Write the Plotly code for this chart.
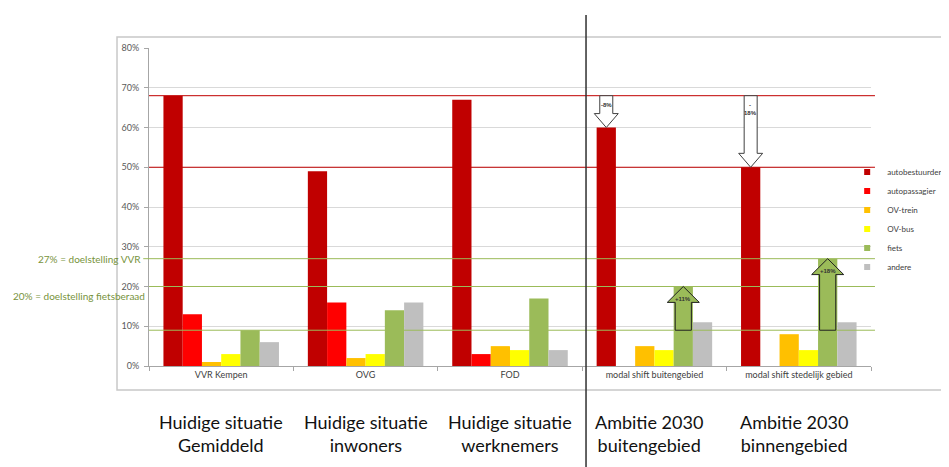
import plotly.graph_objects as go

# ---------------- data ----------------
categories = ["VVR Kempen", "OVG", "FOD", "modal shift buitengebied", "modal shift stedelijk gebied"]
group_labels = ["Huidige situatie<br>Gemiddeld", "Huidige situatie<br>inwoners",
                "Huidige situatie<br>werknemers", "Ambitie 2030<br>buitengebied",
                "Ambitie 2030<br>binnengebied"]
modes = ["autobestuurder", "autopassagier", "OV-trein", "OV-bus", "fiets", "andere"]
autobestuurder = [68, 49, 67, 60, 50]
autopassagier = [13, 16, 3, 0, 0]
ov_trein = [1, 2, 5, 5, 8]
ov_bus = [3, 3, 4, 4, 4]
fiets = [9, 14, 17, 20, 27]
andere = [6, 16, 4, 11, 11]
series = [autobestuurder, autopassagier, ov_trein, ov_bus, fiets, andere]
colors = ["#C00000", "#FF0000", "#FFC000", "#FFFF00", "#9BBB59", "#BFBFBF"]

red_lines = [68, 50]
green_lines = [27, 20, 9]
green_labels = {27: "27% = doelstelling VVR", 20: "20% = doelstelling fietsberaad"}
ambition_idx = [3, 4]
y_ticks = [0, 10, 20, 30, 40, 50, 60, 70, 80]

# ---------------- figure ----------------
BARGAP = 0.2
n = len(modes)
bw = (1 - BARGAP) / n
x = list(range(len(categories)))

fig = go.Figure()
for name, vals, col in zip(modes, series, colors):
    fig.add_trace(go.Bar(x=x, y=vals, name=name, marker=dict(color=col, line=dict(width=0)),
                         showlegend=False, legendgroup=name, hoverinfo="skip"))
    fig.add_trace(go.Scatter(x=[None], y=[None], mode="markers", name=name, legendgroup=name,
                             marker=dict(symbol="square", size=6, color=col)))


def bar_center(cat, trace_i):
    return cat - (1 - BARGAP) / 2 + (trace_i + 0.5) * bw


shapes = []
annotations = []

# horizontal reference lines (above bars)
for v in red_lines:
    shapes.append(dict(type="line", xref="paper", yref="y", x0=0, x1=1.0055, y0=v, y1=v,
                       line=dict(color="#C00000", width=1), layer="above"))
for v in green_lines:
    shapes.append(dict(type="line", xref="paper", yref="y", x0=-0.008 if v == 27 else 0,
                       x1=1.0055, y0=v, y1=v, line=dict(color="#9BBB59", width=1), layer="above"))
annotations.append(dict(xref="paper", yref="y", x=-0.008, y=27, text=green_labels[27], showarrow=False,
                        xanchor="right", yanchor="middle", font=dict(size=10, color="#77933C", family="Lato")))
annotations.append(dict(xref="paper", yref="y", x=-0.003, y=20, text=green_labels[20], showarrow=False,
                        xanchor="right", yanchor="top", yshift=-1, font=dict(size=10, color="#77933C", family="Lato")))


def arrow_path(xc, y_start, y_end, half_shaft, half_head, head_len):
    d = 1 if y_end > y_start else -1
    yb = y_end - d * head_len
    pts = [(xc - half_shaft, y_start), (xc - half_shaft, yb), (xc - half_head, yb), (xc, y_end),
           (xc + half_head, yb), (xc + half_shaft, yb), (xc + half_shaft, y_start)]
    return "M " + " L ".join(f"{px:.4f},{py:.4f}" for px, py in pts) + " Z"


base_auto = autobestuurder[0]
base_fiets = fiets[0]
for ci in ambition_idx:
    # down arrow on autobestuurder
    xc = bar_center(ci, 0)
    target = autobestuurder[ci]
    shapes.append(dict(type="path", xref="x", yref="y",
                       path=arrow_path(xc, base_auto, target, 0.045, 0.083, 3.5),
                       fillcolor="white", line=dict(color="#404040", width=1), layer="above"))
    diff = target - base_auto
    txt = f"<b>-{abs(diff)}%</b>" if abs(diff) < 10 else f"<b>-<br>{abs(diff)}%</b>"
    annotations.append(dict(xref="x", yref="y", x=xc, y=base_auto - 1.0, text=txt, showarrow=False,
                            yanchor="top", font=dict(size=6, color="#333333", family="Arial")))
    # up arrow on fiets
    xc = bar_center(ci, 4)
    target = fiets[ci]
    shapes.append(dict(type="path", xref="x", yref="y",
                       path=arrow_path(xc, base_fiets, target, 0.056, 0.111, 4.0),
                       fillcolor="#9BBB59", line=dict(color="#202020", width=1), layer="above"))
    diff = target - base_fiets
    annotations.append(dict(xref="x", yref="y", x=xc, y=target - 3.2, text=f"<b>+{diff}%</b>",
                            showarrow=False, yanchor="middle",
                            font=dict(size=6, color="#333333", family="Arial")))

# vertical separator line
shapes.append(dict(type="line", xref="paper", yref="paper", x0=0.6053, x1=0.6053, y0=-0.35, y1=1.104,
                   line=dict(color="#303030", width=1.5), layer="above"))
# outer border box
shapes.append(dict(type="rect", xref="paper", yref="paper", x0=-0.0443, x1=1.13, y0=-0.0755, y1=1.0346,
                   line=dict(color="#C8C8C8", width=1.5), fillcolor="rgba(0,0,0,0)", layer="below"))

# big group labels
for ci, lab in enumerate(group_labels):
    annotations.append(dict(xref="x", yref="paper", x=ci, y=-0.213, text=lab, showarrow=False,
                            xanchor="center", yanchor="middle", xshift=-5 if ci >= 3 else 0,
                            font=dict(size=18, color="#111111", family="Lato")))

# the page body adds an 8px offset; margins are set so the plot area lands where the reference has it
fig.update_layout(
    width=941, height=459,
    margin=dict(l=141, r=78, t=40, b=101, autoexpand=False),
    paper_bgcolor="white", plot_bgcolor="white",
    barmode="group", bargap=BARGAP, bargroupgap=0,
    shapes=shapes, annotations=annotations,
    font=dict(family="Lato", size=9, color="#595959"),
    legend=dict(x=0.967, xanchor="left", y=0.656, yanchor="top", font=dict(size=8, color="#404040"),
                bgcolor="rgba(0,0,0,0)", tracegroupgap=0, itemwidth=30),
)
fig.update_xaxes(range=[-0.5, len(categories) - 0.5], tickmode="array", tickvals=x, ticktext=categories,
                 ticks="", showgrid=False, showline=True, linecolor="#A6A6A6", linewidth=1,
                 tickfont=dict(size=9, color="#404040"),
                 minor=dict(tickmode="linear", tick0=0.5, dtick=1, ticks="outside", ticklen=4,
                            tickcolor="#A6A6A6", showgrid=False))
fig.update_yaxes(range=[0, 80], tickmode="array", tickvals=y_ticks, ticktext=[f"{v}%" for v in y_ticks],
                 showgrid=True, gridcolor="#D9D9D9", gridwidth=1, showline=True, linecolor="#A6A6A6",
                 ticks="outside", ticklen=4, tickcolor="#A6A6A6", zeroline=False, ticklabelstandoff=3,
                 tickfont=dict(size=9, color="#595959"))

fig.write_html("out.html")
